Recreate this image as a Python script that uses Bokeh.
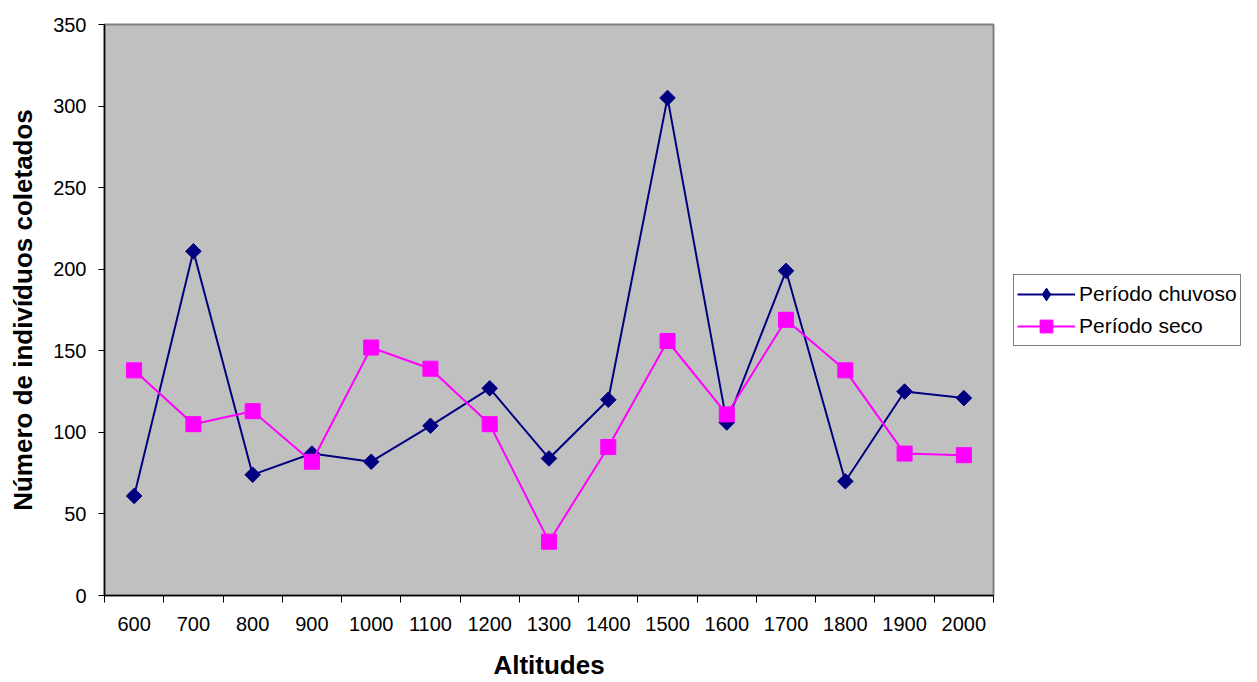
import math
from bokeh.plotting import figure
from bokeh.layouts import row
from bokeh.models import FixedTicker, Legend, LegendItem, Range1d
from bokeh.embed import file_html
from bokeh.resources import INLINE

altitudes = ["600", "700", "800", "900", "1000", "1100", "1200", "1300", "1400",
             "1500", "1600", "1700", "1800", "1900", "2000"]
chuvoso = [61, 211, 74, 87, 82, 104, 127, 84, 120, 305, 106, 199, 70, 125, 121]
seco = [138, 105, 113, 82, 152, 139, 105, 33, 91, 156, 111, 169, 138, 87, 86]
series_names = ["Período chuvoso", "Período seco"]

xs = list(range(len(altitudes)))
NAVY = "#000080"
MAGENTA = "#FF00FF"

p = figure(width=1000, height=682, output_backend="svg", toolbar_location=None,
           x_range=Range1d(-0.5, len(altitudes) - 0.5), y_range=Range1d(0, 350),
           min_border_left=104, min_border_right=7, min_border_top=24, min_border_bottom=86)
p.background_fill_color = "#C0C0C0"
p.border_fill_color = "white"
p.outline_line_color = "#808080"
p.outline_line_width = 2
p.grid.visible = False

p.xaxis.ticker = FixedTicker(ticks=xs, minor_ticks=[i - 0.5 for i in range(len(altitudes) + 1)])
p.xaxis.major_label_overrides = {i: a for i, a in enumerate(altitudes)}
p.xaxis.major_tick_line_color = None
p.xaxis.minor_tick_line_color = "black"
p.xaxis.minor_tick_out = 7
p.xaxis.minor_tick_in = 0
p.yaxis.ticker = FixedTicker(ticks=list(range(0, 351, 50)))
p.yaxis.major_tick_out = 6
p.yaxis.major_tick_in = 0
p.yaxis.minor_tick_line_color = None
for ax in (p.xaxis, p.yaxis):
    ax.axis_line_color = "black"
    ax.axis_line_width = 1.5
    ax.major_label_text_font = "Liberation Sans"
    ax.major_label_text_font_size = "20px"
    ax.major_label_text_color = "black"
    ax.axis_label_text_font = "Liberation Sans"
    ax.axis_label_text_font_size = "26px"
    ax.axis_label_text_font_style = "bold"
    ax.axis_label_text_color = "black"
p.xaxis.axis_label = "Altitudes"
p.yaxis.axis_label = "Número de indivíduos coletados"
p.xaxis.major_label_standoff = 14
p.xaxis.axis_label_standoff = 16
p.yaxis.major_label_standoff = 12
p.yaxis.axis_label_standoff = 12

p.line(xs, chuvoso, line_color=NAVY, line_width=2)
p.scatter(xs, chuvoso, marker="square", angle=math.pi / 4, size=11,
          fill_color=NAVY, line_color=NAVY)
p.line(xs, seco, line_color=MAGENTA, line_width=2)
p.scatter(xs, seco, marker="square", size=15, fill_color=MAGENTA, line_color=MAGENTA)

# legend panel (its renderers use the same data, outside this panel's visible range)
q = figure(width=257, height=682, output_backend="svg", toolbar_location=None,
           x_range=Range1d(-100, -99), y_range=Range1d(-100, -99),
           min_border_left=0, min_border_right=0, min_border_top=0, min_border_bottom=0)
q.axis.visible = False
q.grid.visible = False
q.outline_line_color = None
q.background_fill_color = "white"
ql1 = q.line(xs, chuvoso, line_color=NAVY, line_width=2)
qm1 = q.scatter(xs, chuvoso, marker="diamond", size=15, fill_color=NAVY, line_color=NAVY)
ql2 = q.line(xs, seco, line_color=MAGENTA, line_width=2)
qm2 = q.scatter(xs, seco, marker="square", size=15, fill_color=MAGENTA, line_color=MAGENTA)

legend = Legend(items=[LegendItem(label=series_names[0], renderers=[ql1, qm1]),
                       LegendItem(label=series_names[1], renderers=[ql2, qm2])],
                location=(13, 249))
legend.label_text_font = "Liberation Sans"
legend.label_text_font_size = "21px"
legend.label_text_color = "black"
legend.border_line_color = "black"
legend.border_line_width = 1
legend.background_fill_color = "white"
legend.background_fill_alpha = 1
legend.glyph_width = 58
legend.glyph_height = 32
legend.label_height = 32
legend.label_standoff = 4
legend.padding = 3
legend.spacing = 0
legend.margin = 0
q.add_layout(legend, "center")

layout = row(p, q, spacing=0)
open("out.html", "w").write(file_html(layout, INLINE))
